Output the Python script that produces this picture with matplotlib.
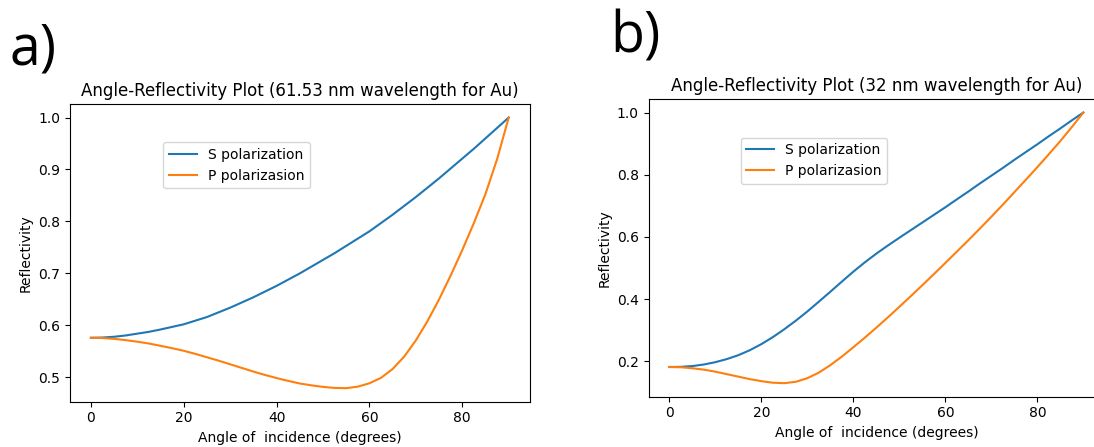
import matplotlib
matplotlib.use("Agg")
import matplotlib.pyplot as plt
import numpy as np

# angles (degrees) and reflectivity, every 2.5 degrees
angles = [0, 2.5, 5, 7.5, 10, 12.5, 15, 17.5, 20, 22.5, 25, 27.5, 30, 32.5,
          35, 37.5, 40, 42.5, 45, 47.5, 50, 52.5, 55, 57.5, 60, 62.5, 65,
          67.5, 70, 72.5, 75, 77.5, 80, 82.5, 85, 87.5, 90]

# a) 61.53 nm
s_a = [0.576, 0.5765, 0.578, 0.5805, 0.584, 0.5875, 0.592, 0.597, 0.602,
       0.609, 0.616, 0.625, 0.634, 0.644, 0.654, 0.665, 0.676, 0.688, 0.700,
       0.713, 0.726, 0.739, 0.753, 0.767, 0.781, 0.797, 0.813, 0.830, 0.847,
       0.865, 0.883, 0.902, 0.921, 0.940, 0.960, 0.980, 1.000]
p_a = [0.576, 0.5755, 0.574, 0.5715, 0.5685, 0.565, 0.5605, 0.556, 0.551,
       0.545, 0.5385, 0.532, 0.525, 0.518, 0.511, 0.5045, 0.4985, 0.493,
       0.488, 0.4845, 0.4815, 0.4795, 0.479, 0.482, 0.4885, 0.499, 0.516,
       0.540, 0.571, 0.608, 0.650, 0.696, 0.745, 0.797, 0.853, 0.920, 1.000]

# b) 32 nm
s_b = [0.182, 0.1825, 0.185, 0.190, 0.1975, 0.2075, 0.220, 0.236, 0.2555,
       0.278, 0.3035, 0.331, 0.3605, 0.392, 0.424, 0.4565, 0.4885, 0.5185,
       0.5465, 0.5725, 0.5975, 0.622, 0.6465, 0.671, 0.6955, 0.721, 0.746,
       0.772, 0.797, 0.822, 0.848, 0.873, 0.898, 0.924, 0.949, 0.975, 1.000]
p_b = [0.182, 0.1812, 0.178, 0.1735, 0.167, 0.159, 0.151, 0.143, 0.1365,
       0.1315, 0.130, 0.1345, 0.146, 0.164, 0.188, 0.2155, 0.2455, 0.2765,
       0.3085, 0.3415, 0.3755, 0.410, 0.445, 0.4805, 0.5165, 0.553, 0.5895,
       0.627, 0.665, 0.704, 0.744, 0.784, 0.8245, 0.866, 0.9085, 0.9535, 1.000]

titles = ['Angle-Reflectivity Plot (61.53 nm wavelength for Au)',
          'Angle-Reflectivity Plot (32 nm wavelength for Au)']
panel_tags = ['a)', 'b)']

fig = plt.figure(figsize=(10.94, 4.47), dpi=100)
ax_a = fig.add_axes([0.0640, 0.1013, 0.4201, 0.6660])
ax_b = fig.add_axes([0.5929, 0.1125, 0.4163, 0.6660])

for ax, s, p, title in [(ax_a, s_a, p_a, titles[0]),
                        (ax_b, s_b, p_b, titles[1])]:
    ax.plot(angles, s, label='S polarization')
    ax.plot(angles, p, label='P polarizasion')
    ax.set_xlabel('Angle of  incidence (degrees)')
    ax.set_ylabel('Reflectivity')
    ax.set_title(title)
    ax.set_xticks([0, 20, 40, 60, 80])

ax_a.legend(loc='upper left', bbox_to_anchor=(0.203, 0.871), borderaxespad=0)
ax_b.legend(loc='upper left', bbox_to_anchor=(0.202, 0.870), borderaxespad=0)

fig.text(0.0091, 0.8546, panel_tags[0], family='Open Sans', fontsize=40, va='baseline')
fig.text(0.5580, 0.8821, panel_tags[1], family='Open Sans', fontsize=40, va='baseline')

fig.savefig('out.png', dpi=100)
